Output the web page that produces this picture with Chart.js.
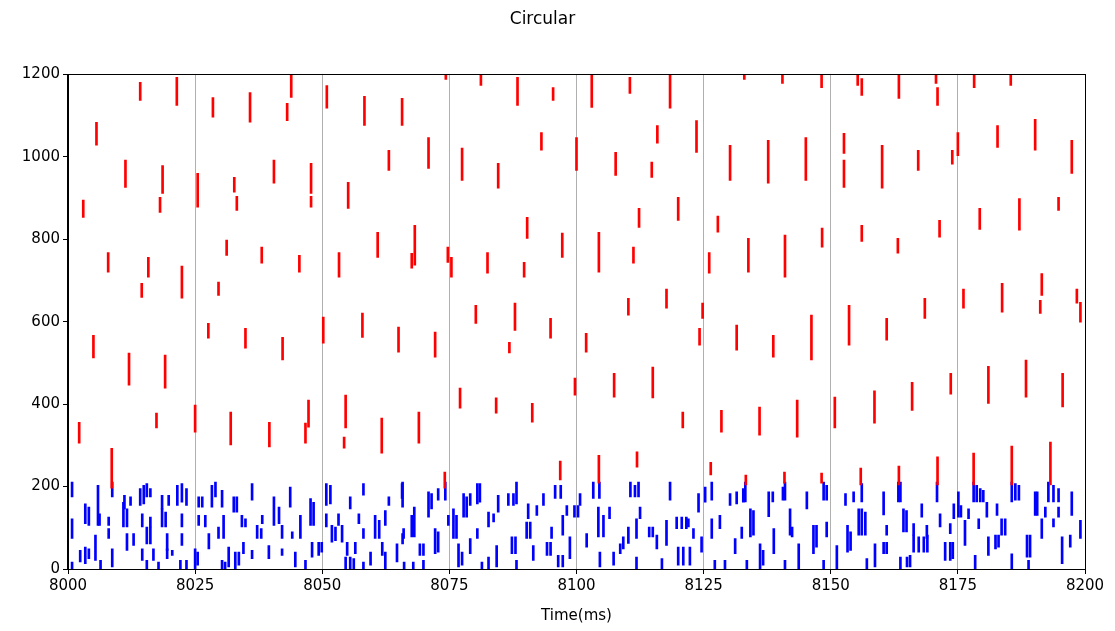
<!DOCTYPE html>
<html>
<head>
<meta charset="utf-8">
<script src="https://cdn.jsdelivr.net/npm/chart.js@4/dist/chart.umd.min.js"></script>
<style>
  html, body { margin: 0; padding: 0; background: #ffffff; }
  #raster { display: block; }
</style>
</head>
<body>
<canvas id="raster" width="1115" height="631"></canvas>
<script>
// spikes: [time (ms), lowest neuron, highest neuron] of each visible streak
const redSpikes = [
  [8014.2, 1137, 1181], [8021.4, 1125, 1193], [8005.6, 1028, 1084], [8011.3, 926, 992],
  [8018.6, 911, 979], [8003.0, 853, 895], [8018.1, 865, 902], [8025.5, 878, 960],
  [8028.5, 1096, 1144], [8035.8, 1084, 1156], [8043.1, 1088, 1130], [8043.9, 1144, 1198],
  [8032.7, 914, 950], [8033.2, 870, 904], [8040.5, 936, 992], [8047.8, 911, 984],
  [8047.8, 878, 904], [8007.9, 720, 768], [8015.8, 708, 756], [8022.4, 657, 735],
  [8031.2, 761, 798], [8038.1, 742, 781], [8045.5, 720, 761],
  [8014.5, 659, 693], [8029.6, 664, 696], [8005.0, 512, 567], [8012.0, 446, 524],
  [8019.1, 439, 519], [8027.6, 560, 596], [8034.9, 536, 584], [8042.2, 507, 562],
  [8002.2, 305, 356], [8017.4, 342, 378], [8025.0, 332, 398], [8032.0, 301, 381],
  [8039.6, 296, 356], [8047.3, 344, 410], [8046.7, 305, 354], [8008.6, 196, 293],
  [8050.9, 1118, 1173], [8058.3, 1076, 1147], [8065.7, 1076, 1142], [8074.3, 1188, 1200],
  [8081.2, 1173, 1198], [8088.4, 1125, 1193], [8095.4, 1137, 1168], [8063.1, 967, 1016],
  [8070.9, 972, 1047], [8077.5, 943, 1021], [8084.6, 924, 984], [8093.1, 1016, 1059],
  [8055.1, 875, 938], [8060.9, 756, 817], [8068.2, 737, 834], [8053.3, 708, 768],
  [8067.6, 730, 766], [8074.7, 744, 781], [8075.4, 708, 756], [8082.5, 718, 768],
  [8089.7, 708, 744], [8090.3, 802, 853], [8097.2, 756, 815], [8100.0, 967, 1047],
  [8050.2, 548, 611], [8057.9, 562, 621], [8065.0, 526, 587], [8072.2, 514, 575],
  [8080.2, 596, 640], [8087.9, 579, 645], [8086.8, 524, 550], [8094.9, 560, 608],
  [8099.7, 422, 463], [8054.6, 342, 422], [8054.3, 293, 320], [8061.7, 281, 366],
  [8069.0, 305, 381], [8077.1, 390, 439], [8084.2, 378, 415], [8091.3, 356, 402],
  [8074.1, 196, 235], [8096.8, 216, 262],
  [8103.0, 1120, 1198], [8110.5, 1154, 1193], [8118.4, 1118, 1198], [8133.0, 1188, 1200],
  [8140.5, 1178, 1200], [8148.2, 1168, 1200], [8115.9, 1033, 1076], [8123.6, 1011, 1088],
  [8107.7, 955, 1011], [8114.8, 950, 987], [8130.2, 943, 1028], [8137.7, 936, 1040],
  [8145.1, 943, 1047], [8112.3, 829, 875], [8120.0, 846, 902], [8127.8, 817, 856],
  [8104.4, 720, 817], [8111.2, 742, 781], [8126.1, 718, 768], [8133.8, 720, 802],
  [8141.0, 708, 810], [8148.3, 781, 827],
  [8110.2, 616, 657], [8117.7, 633, 679], [8124.8, 608, 645], [8101.9, 526, 572],
  [8124.2, 543, 584], [8131.5, 531, 592], [8138.7, 514, 567], [8146.2, 507, 616],
  [8107.4, 417, 475], [8115.0, 415, 490], [8120.9, 342, 381], [8128.5, 332, 385],
  [8136.0, 325, 393], [8143.4, 320, 410], [8104.4, 208, 276], [8111.9, 247, 284],
  [8126.4, 228, 259], [8133.3, 204, 228], [8140.9, 208, 235], [8148.2, 208, 233],
  [8155.3, 1173, 1200], [8156.1, 1149, 1190], [8163.4, 1142, 1198], [8170.7, 1178, 1200],
  [8171.0, 1125, 1168], [8178.2, 1168, 1200], [8185.4, 1173, 1200], [8152.6, 1008, 1057],
  [8152.6, 926, 992], [8160.1, 924, 1028], [8167.2, 967, 1016], [8173.9, 982, 1016],
  [8175.0, 1003, 1059], [8182.8, 1023, 1076], [8190.2, 1016, 1091], [8197.4, 960, 1040],
  [8156.1, 795, 834], [8163.2, 766, 802], [8171.4, 805, 846], [8179.3, 824, 875],
  [8187.1, 822, 899], [8194.8, 870, 902], [8191.5, 664, 717],
  [8153.6, 543, 640], [8161.0, 555, 608], [8168.5, 608, 657], [8176.1, 633, 679],
  [8183.7, 623, 693], [8191.2, 620, 652], [8198.4, 645, 679], [8199.1, 599, 647],
  [8150.8, 342, 417], [8158.6, 354, 432], [8166.0, 385, 453], [8173.6, 424, 475],
  [8181.0, 402, 492], [8188.4, 417, 507], [8195.6, 393, 475], [8155.9, 204, 245],
  [8163.4, 204, 250], [8171.0, 204, 272], [8178.1, 204, 281], [8185.6, 204, 298],
  [8193.2, 204, 308]
];

const blueSpikes = [
  [8000.8, 175, 211], [8000.8, 74, 122], [8000.8, 1, 17], [8002.4, 17, 45],
  [8003.4, 110, 158], [8004.1, 106, 150], [8003.4, 13, 53], [8004.1, 25, 49],
  [8005.4, 21, 82], [8005.9, 106, 203], [8006.2, 106, 134], [8006.4, 1, 21],
  [8008.0, 74, 98], [8008.0, 106, 126], [8008.7, 175, 211], [8008.7, 5, 49],
  [8010.9, 102, 162], [8011.6, 102, 146], [8011.1, 146, 179], [8011.6, 45, 86],
  [8012.3, 154, 175], [8012.9, 57, 86], [8014.2, 154, 195], [8014.9, 158, 203],
  [8014.6, 102, 134], [8014.6, 21, 49], [8015.5, 61, 102], [8016.2, 61, 102],
  [8015.5, 175, 207], [8016.2, 175, 195], [8015.5, 1, 21], [8016.2, 102, 126],
  [8016.8, 21, 49], [8017.8, 1, 17], [8018.5, 102, 146], [8019.2, 102, 138],
  [8018.5, 146, 179], [8019.5, 45, 86], [8019.5, 25, 49], [8019.8, 154, 179],
  [8020.5, 33, 45], [8021.5, 154, 203], [8022.4, 162, 207], [8023.3, 154, 195],
  [8022.4, 102, 134], [8022.4, 57, 86], [8022.1, 1, 21], [8023.3, 1, 21],
  [8025.0, 1, 49], [8025.5, 9, 41], [8025.7, 150, 175], [8025.7, 106, 130],
  [8026.4, 150, 175], [8027.0, 102, 130], [8027.7, 49, 86], [8028.3, 150, 203],
  [8029.0, 175, 211], [8030.3, 150, 191], [8029.6, 74, 102], [8030.6, 74, 130],
  [8030.3, 1, 21], [8030.9, 1, 17], [8031.6, 5, 53], [8032.6, 138, 175],
  [8033.2, 138, 175], [8032.9, 1, 41], [8033.6, 9, 41], [8034.2, 102, 130],
  [8034.5, 37, 65], [8036.2, 167, 207], [8036.2, 25, 45], [8034.9, 102, 122],
  [8037.2, 74, 106], [8038.0, 74, 98], [8038.2, 110, 130], [8039.5, 25, 57],
  [8040.5, 106, 175], [8041.5, 110, 150], [8042.1, 33, 49], [8042.1, 74, 106],
  [8043.7, 150, 199], [8044.1, 74, 90], [8044.7, 5, 41], [8045.7, 74, 130],
  [8046.7, 1, 21], [8047.7, 106, 171], [8048.3, 106, 162], [8048.0, 29, 65],
  [8049.3, 33, 65], [8049.9, 41, 65], [8050.8, 154, 207], [8051.6, 158, 203],
  [8050.8, 102, 134], [8051.9, 65, 106], [8052.6, 69, 102], [8053.9, 65, 106],
  [8053.2, 106, 134], [8054.6, 1, 29], [8055.5, 1, 29], [8056.2, 1, 25],
  [8054.9, 33, 65], [8055.5, 146, 175], [8056.5, 37, 65], [8057.2, 110, 134],
  [8058.1, 74, 98], [8058.1, 179, 207], [8058.1, 1, 17], [8059.5, 9, 41],
  [8060.4, 74, 130], [8061.2, 74, 118], [8061.8, 33, 65], [8062.4, 106, 142],
  [8062.4, 1, 41], [8063.1, 154, 175], [8064.7, 17, 61], [8065.7, 171, 207],
  [8066.0, 74, 98],
  [8065.8, 150, 211], [8065.8, 61, 86], [8066.1, 1, 17], [8067.6, 78, 130],
  [8068.1, 78, 150], [8067.9, 1, 17], [8069.2, 33, 61], [8069.9, 33, 61],
  [8069.9, 1, 21], [8070.9, 126, 187], [8071.5, 146, 183], [8072.2, 37, 98],
  [8072.8, 41, 90], [8072.8, 167, 195], [8074.2, 167, 211], [8074.8, 106, 130],
  [8075.8, 74, 146], [8076.4, 74, 130], [8076.8, 5, 61], [8077.5, 9, 41],
  [8077.8, 126, 183], [8078.4, 126, 175], [8079.1, 37, 74], [8079.1, 154, 183],
  [8080.5, 158, 207], [8081.0, 162, 207], [8080.5, 74, 98], [8081.4, 1, 17],
  [8082.7, 102, 138], [8082.7, 1, 29], [8083.7, 114, 134], [8084.3, 5, 57],
  [8084.6, 138, 179], [8086.6, 154, 183], [8087.3, 37, 78], [8088.0, 37, 78],
  [8087.6, 154, 183], [8088.2, 158, 211], [8088.2, 1, 21], [8090.2, 74, 114],
  [8090.9, 74, 114], [8090.5, 122, 158], [8091.5, 21, 57], [8092.2, 130, 154],
  [8093.5, 154, 183], [8094.2, 33, 65], [8094.9, 33, 65], [8095.1, 74, 102],
  [8095.8, 171, 203], [8096.9, 171, 203], [8096.4, 5, 33], [8097.3, 5, 33],
  [8097.3, 82, 130], [8098.1, 130, 154], [8098.7, 25, 78], [8099.6, 126, 154],
  [8100.3, 126, 154], [8100.7, 154, 183], [8102.0, 53, 86], [8103.3, 171, 211],
  [8104.5, 171, 211], [8104.3, 78, 150], [8105.3, 78, 130], [8104.6, 5, 41],
  [8106.5, 122, 150], [8107.3, 9, 41], [8108.6, 37, 61], [8109.2, 49, 78],
  [8110.2, 62, 102], [8110.6, 175, 211], [8111.5, 175, 203], [8112.2, 175, 211],
  [8111.8, 74, 122], [8111.8, 1, 29], [8112.5, 122, 150], [8114.3, 78, 102],
  [8115.0, 78, 102], [8115.8, 49, 82], [8116.8, 1, 25], [8117.7, 57, 118],
  [8118.4, 167, 211], [8119.7, 98, 126], [8120.7, 98, 126], [8121.6, 98, 126],
  [8120.0, 9, 53], [8121.0, 9, 53], [8122.3, 9, 53], [8122.0, 102, 122],
  [8123.0, 74, 98], [8124.0, 138, 183], [8124.6, 41, 78], [8125.3, 162, 199],
  [8126.6, 167, 211], [8126.6, 74, 122], [8127.2, 1, 21], [8128.2, 98, 130],
  [8129.2, 1, 21], [8130.2, 154, 183], [8131.2, 37, 74], [8131.5, 158, 187],
  [8132.8, 162, 195],
  [8133.2, 163, 211], [8132.5, 74, 102], [8133.5, 1, 21], [8134.2, 78, 146],
  [8134.8, 82, 142], [8136.1, 1, 61], [8136.7, 9, 45], [8137.8, 127, 187],
  [8138.6, 163, 187], [8138.8, 37, 98], [8140.6, 167, 199], [8141.0, 167, 211],
  [8141.0, 1, 21], [8142.0, 82, 146], [8142.4, 78, 102], [8143.7, 1, 61],
  [8145.3, 146, 187], [8146.6, 37, 106], [8147.2, 53, 106], [8148.6, 167, 211],
  [8149.2, 167, 203], [8148.6, 1, 21], [8149.2, 78, 114], [8151.2, 1, 57],
  [8152.9, 154, 183], [8153.3, 41, 106], [8153.9, 45, 90], [8154.5, 163, 187],
  [8155.5, 82, 146], [8156.1, 82, 146], [8156.8, 82, 138], [8156.1, 163, 207],
  [8157.1, 1, 25], [8158.7, 5, 61], [8160.4, 131, 187], [8160.4, 37, 65],
  [8161.0, 37, 65], [8161.0, 82, 106], [8163.3, 163, 211], [8163.7, 163, 211],
  [8163.7, 1, 29], [8164.3, 90, 146], [8164.9, 90, 142], [8165.0, 5, 29],
  [8165.6, 5, 33], [8166.3, 41, 82], [8167.3, 41, 78], [8168.3, 41, 78],
  [8169.0, 41, 82], [8166.3, 82, 110], [8167.9, 126, 158], [8168.9, 74, 106],
  [8170.9, 163, 211], [8171.5, 102, 134], [8172.5, 21, 65], [8173.5, 21, 65],
  [8174.0, 25, 65], [8173.5, 86, 110], [8174.2, 122, 158], [8175.1, 126, 187],
  [8175.6, 126, 154], [8176.4, 57, 118], [8177.1, 122, 146], [8178.1, 163, 211],
  [8178.7, 163, 203], [8179.4, 163, 195], [8180.0, 163, 191], [8178.4, 1, 33],
  [8179.1, 98, 122], [8180.7, 126, 162], [8181.0, 33, 78], [8182.4, 49, 82],
  [8183.0, 53, 82], [8182.7, 130, 158], [8183.6, 82, 122], [8184.3, 82, 122],
  [8185.6, 163, 211], [8186.3, 167, 207], [8187.0, 167, 203], [8185.6, 1, 37],
  [8188.6, 29, 82], [8189.2, 29, 82], [8188.9, 1, 21], [8190.2, 130, 187],
  [8190.6, 130, 187], [8191.5, 74, 122], [8192.2, 126, 150], [8192.8, 163, 211],
  [8193.8, 163, 203], [8194.8, 163, 195], [8193.8, 102, 122], [8194.8, 126, 150],
  [8195.5, 13, 78], [8197.1, 53, 82], [8197.4, 130, 187], [8199.1, 74, 118]
];

const xTicks = [8000, 8025, 8050, 8075, 8100, 8125, 8150, 8175, 8200];
const yTicks = [0, 200, 400, 600, 800, 1000, 1200];

const FONT = 'DejaVu Sans';

// matplotlib draws a full box round the axes
const frameBox = {
  id: 'frameBox',
  afterDraw(chart) {
    const { ctx, chartArea: a } = chart;
    ctx.save();
    ctx.strokeStyle = '#000000';
    ctx.lineWidth = 1;
    ctx.strokeRect(Math.round(a.left) - 0.5, Math.round(a.top) + 0.5,
                   Math.round(a.right - a.left) + 1, Math.round(a.bottom - a.top));
    ctx.restore();
  }
};

const toBars = list => list.map(([t, lo, hi]) => ({ x: t, y: [lo, hi] }));

new Chart(document.getElementById('raster'), {
  type: 'bar',
  data: {
    datasets: [
      { label: 'exc', data: toBars(redSpikes), backgroundColor: '#ff0000',
        barThickness: 2, grouped: false, borderWidth: 0 },
      { label: 'inh', data: toBars(blueSpikes), backgroundColor: '#0000ff',
        barThickness: 2, grouped: false, borderWidth: 0 }
    ]
  },
  options: {
    responsive: false,
    animation: false,
    devicePixelRatio: 1,
    layout: { padding: { left: 0, right: 30, top: 0, bottom: 0 } },
    plugins: {
      legend: { display: false },
      tooltip: { enabled: false },
      title: {
        display: true,
        text: 'Circular',
        color: '#000000',
        font: { family: FONT, size: 17, weight: 'normal' },
        padding: { top: 9, bottom: 45 }
      }
    },
    scales: {
      x: {
        type: 'linear',
        min: 8000,
        max: 8200,
        offset: false,
        afterBuildTicks: s => { s.ticks = xTicks.map(v => ({ value: v })); },
        afterFit: s => { s.height = 62; },
        ticks: { color: '#000000', font: { family: FONT, size: 15 }, padding: 3, maxRotation: 0,
                 callback: v => String(v) },
        grid: { offset: false, color: '#b0b0b0', lineWidth: 1, tickColor: '#000000', tickLength: 5 },
        border: { display: true, color: '#000000' },
        title: {
          display: true,
          text: 'Time(ms)',
          color: '#000000',
          font: { family: FONT, size: 15 },
          padding: { top: 4, bottom: 6 }
        }
      },
      y: {
        min: 0,
        max: 1200,
        afterBuildTicks: s => { s.ticks = yTicks.map(v => ({ value: v })); },
        afterFit: s => { s.width = 68; },
        ticks: { color: '#000000', font: { family: FONT, size: 15 }, padding: 3,
                 callback: v => String(v) },
        grid: { drawOnChartArea: false, tickColor: '#000000', tickLength: 5 },
        border: { display: true, color: '#000000' }
      }
    }
  },
  plugins: [frameBox]
});
</script>
</body>
</html>
